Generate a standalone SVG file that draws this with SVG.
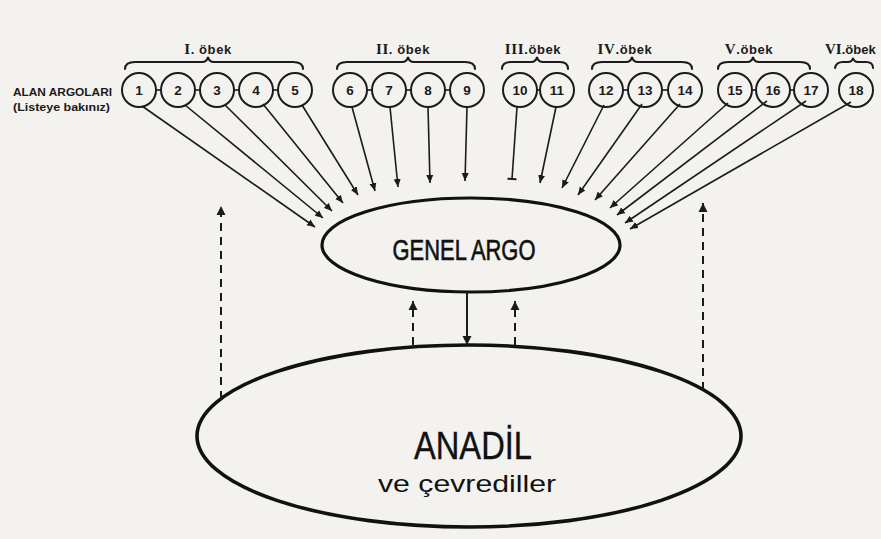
<svg xmlns="http://www.w3.org/2000/svg" width="881" height="539" viewBox="0 0 881 539">
<defs>
<style>
.bg{fill:#f3f2ee}
.c{fill:none;stroke:#1b1b1b;stroke-width:2}
.num{font-family:"Liberation Sans",Arial,sans-serif;font-weight:bold;font-size:13.5px;fill:#1b1b1b;text-anchor:middle}
.grp{font-family:"Liberation Sans",Arial,sans-serif;font-weight:bold;font-size:13px;fill:#1b1b1b;text-anchor:middle;letter-spacing:0.6px}
.rom{font-family:"Liberation Serif","Times New Roman",serif;font-weight:bold;font-size:15px}
.side{font-family:"Liberation Sans",Arial,sans-serif;font-weight:bold;font-size:10px;fill:#1b1b1b}
.brace{fill:none;stroke:#1b1b1b;stroke-width:2;stroke-linecap:round}
.link{stroke:#1b1b1b;stroke-width:1.6}
.arr{stroke:#1b1b1b;stroke-width:1.6;fill:none;marker-end:url(#ah)}
.dash{stroke:#1b1b1b;stroke-width:2;fill:none;stroke-dasharray:8 6;marker-end:url(#ah2)}
.ell{fill:none;stroke:#111;stroke-width:3.2}
.big{font-family:"Liberation Sans",Arial,sans-serif;fill:#111;text-anchor:middle;stroke:#111;stroke-width:0.6}
.sub{font-family:"Liberation Sans",Arial,sans-serif;fill:#111;text-anchor:middle}
</style>
<marker id="ah" markerUnits="userSpaceOnUse" markerWidth="9" markerHeight="8" refX="8" refY="4" orient="auto">
<path d="M0,0.5 L8,4 L0,7.5 Z" fill="#1b1b1b"/>
</marker>
<marker id="ah2" markerUnits="userSpaceOnUse" markerWidth="10" markerHeight="10" refX="9" refY="5" orient="auto">
<path d="M0,0.5 L9,5 L0,9.5 Z" fill="#1b1b1b"/>
</marker>
<marker id="tee" markerUnits="userSpaceOnUse" markerWidth="10" markerHeight="10" refX="5" refY="5" orient="auto">
<path d="M5,0.5 L5,9.5" stroke="#1b1b1b" stroke-width="2"/>
</marker>
</defs>
<rect class="bg" x="0" y="0" width="881" height="539"/>

<g id="side-label">
<text class="side" x="13" y="96" textLength="99" lengthAdjust="spacingAndGlyphs">ALAN ARGOLARI</text>
<text class="side" x="13" y="111" textLength="97" lengthAdjust="spacingAndGlyphs">(Listeye bakınız)</text>
</g>

<g id="groups">
<g id="g1"><text class="grp" x="208" y="54"><tspan class="rom">I</tspan>. öbek</text>
<path class="brace" d="M125,69 Q125,62 135,62 L202,62 Q207,62 208,57 Q209,62 214,62 L293,62 Q303,62 303,69"/></g>
<g id="g2"><text class="grp" x="403" y="54"><tspan class="rom">II</tspan>. öbek</text>
<path class="brace" d="M337,69 Q337,62 347,62 L402,62 Q407,62 408,57 Q409,62 414,62 L465,62 Q475,62 475,69"/></g>
<g id="g3"><text class="grp" x="533" y="54"><tspan class="rom">III</tspan>.öbek</text>
<path class="brace" d="M502,69 Q502,62 511,62 L531,62 Q536,62 537,57 Q538,62 543,62 L560,62 Q568,62 568,69"/></g>
<g id="g4"><text class="grp" x="625" y="54"><tspan class="rom">IV</tspan>.öbek</text>
<path class="brace" d="M592,69 Q592,62 602,62 L626,62 Q631,62 632,57 Q633,62 638,62 L682,62 Q692,62 692,69"/></g>
<g id="g5"><text class="grp" x="749" y="54"><tspan class="rom">V</tspan>.öbek</text>
<path class="brace" d="M718,69 Q718,62 728,62 L747,62 Q752,62 753,57 Q754,62 759,62 L800,62 Q810,62 810,69"/></g>
<g id="g6"><text class="grp" x="825" y="54" style="text-anchor:start;letter-spacing:0"><tspan class="rom">VI</tspan>.öbek</text>
<path class="brace" d="M835,68 Q836,62 843,62 L848,62 Q852,62 853,58 Q854,62 858,62 L866,62 Q873,62 873,68"/></g>
</g>

<g id="n1"><circle class="c" cx="139" cy="90" r="17"/><text class="num" x="139" y="95">1</text></g>
<g id="n2"><circle class="c" cx="178" cy="90" r="17"/><text class="num" x="178" y="95">2</text></g>
<g id="n3"><circle class="c" cx="217" cy="90" r="17"/><text class="num" x="217" y="95">3</text></g>
<g id="n4"><circle class="c" cx="256" cy="90" r="17"/><text class="num" x="256" y="95">4</text></g>
<g id="n5"><circle class="c" cx="295" cy="90" r="17"/><text class="num" x="295" y="95">5</text></g>
<g id="n6"><circle class="c" cx="350" cy="90" r="17"/><text class="num" x="350" y="95">6</text></g>
<g id="n7"><circle class="c" cx="389" cy="90" r="17"/><text class="num" x="389" y="95">7</text></g>
<g id="n8"><circle class="c" cx="428" cy="90" r="17"/><text class="num" x="428" y="95">8</text></g>
<g id="n9"><circle class="c" cx="467" cy="90" r="17"/><text class="num" x="467" y="95">9</text></g>
<g id="n10"><circle class="c" cx="520" cy="90" r="17"/><text class="num" x="520" y="95">10</text></g>
<g id="n11"><circle class="c" cx="557" cy="90" r="17"/><text class="num" x="557" y="95">11</text></g>
<g id="n12"><circle class="c" cx="606" cy="90" r="17"/><text class="num" x="606" y="95">12</text></g>
<g id="n13"><circle class="c" cx="645" cy="90" r="17"/><text class="num" x="645" y="95">13</text></g>
<g id="n14"><circle class="c" cx="685" cy="90" r="17"/><text class="num" x="685" y="95">14</text></g>
<g id="n15"><circle class="c" cx="735" cy="90" r="17"/><text class="num" x="735" y="95">15</text></g>
<g id="n16"><circle class="c" cx="773" cy="90" r="17"/><text class="num" x="773" y="95">16</text></g>
<g id="n17"><circle class="c" cx="811" cy="90" r="17"/><text class="num" x="811" y="95">17</text></g>
<g id="n18"><circle class="c" cx="856" cy="90" r="17"/><text class="num" x="856" y="95">18</text></g>

<g id="genel-argo">
<ellipse class="ell" cx="471" cy="245" rx="149" ry="47"/>
<text class="big" x="464" y="260" font-size="29" textLength="143" lengthAdjust="spacingAndGlyphs">GENEL ARGO</text>
</g>

<g id="anadil">
<ellipse class="ell" cx="469" cy="436" rx="272" ry="91" style="stroke-width:3.6"/>
<text class="big" x="473" y="459" font-size="38" style="stroke-width:0.4" textLength="118" lengthAdjust="spacingAndGlyphs">ANADİL</text>
<text class="sub" x="467" y="492" font-size="24" textLength="178" lengthAdjust="spacingAndGlyphs">ve çevrediller</text>
</g>

<g id="connectors">
<line class="link" x1="156" y1="90" x2="161" y2="90"/>
<line class="link" x1="195" y1="90" x2="200" y2="90"/>
<line class="link" x1="234" y1="90" x2="239" y2="90"/>
<line class="link" x1="273" y1="90" x2="278" y2="90"/>
<line class="link" x1="367" y1="90" x2="372" y2="90"/>
<line class="link" x1="406" y1="90" x2="411" y2="90"/>
<line class="link" x1="445" y1="90" x2="450" y2="90"/>
<line class="link" x1="537" y1="90" x2="540" y2="90"/>
<line class="link" x1="623" y1="90" x2="628" y2="90"/>
<line class="link" x1="662" y1="90" x2="668" y2="90"/>
<line class="link" x1="752" y1="90" x2="756" y2="90"/>
<line class="link" x1="790" y1="90" x2="794" y2="90"/>

<line class="arr" x1="142" y1="106" x2="315" y2="227"/>
<line class="arr" x1="185" y1="105" x2="323" y2="218"/>
<line class="arr" x1="225" y1="105" x2="332" y2="211"/>
<line class="arr" x1="263" y1="104" x2="343" y2="203"/>
<line class="arr" x1="302" y1="105" x2="358" y2="195"/>
<line class="arr" x1="352" y1="107" x2="375" y2="191"/>
<line class="arr" x1="390" y1="107" x2="398" y2="187"/>
<line class="arr" x1="428" y1="107" x2="430" y2="183"/>
<line class="arr" x1="467" y1="107" x2="465" y2="181"/>
<line class="link" x1="517" y1="107" x2="512" y2="179" marker-end="url(#tee)"/>
<line class="arr" x1="556" y1="107" x2="540" y2="183"/>
<line class="arr" x1="604" y1="105" x2="562" y2="188"/>
<line class="arr" x1="642" y1="104" x2="578" y2="195"/>
<line class="arr" x1="680" y1="104" x2="595" y2="200"/>
<line class="arr" x1="728" y1="103" x2="610" y2="208"/>
<line class="arr" x1="767" y1="101" x2="617" y2="215"/>
<line class="arr" x1="806" y1="101" x2="625" y2="223"/>
<line class="arr" x1="851" y1="102" x2="630" y2="229"/>

<line class="arr" x1="467" y1="292" x2="467" y2="345" style="stroke-width:2;marker-end:url(#ah2)"/>
<line class="dash" x1="413" y1="345" x2="413" y2="301"/>
<line class="dash" x1="515" y1="345" x2="515" y2="301"/>
<line class="dash" x1="221" y1="399" x2="221" y2="206"/>
<line class="dash" x1="703" y1="390" x2="703" y2="203"/>
</g>
</svg>
